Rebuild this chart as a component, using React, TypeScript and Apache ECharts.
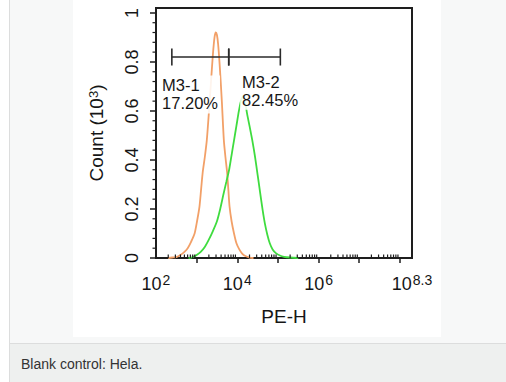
import React, { useEffect, useRef } from 'react';
import * as echarts from 'echarts';

const FONT = '"Liberation Sans", Arial, Helvetica, sans-serif';

// Axis ticks (x is the log10 exponent of PE-H intensity)
const xLabelValues = [2, 4, 6, 8.3];
const xLabelExponents = ['2', '4', '6', '8.3'];
const xMajorTicks = [3, 4, 5, 6, 7, 8];
const xMinorDecades = [2, 3, 4, 5, 6, 7];
const xMinorMultipliers = [2, 3, 4, 5, 6, 7, 8, 9];
const yTickValues = [0, 0.2, 0.4, 0.6, 0.8, 1];
const yTickLabels = ['0', '0.2', '0.4', '0.6', '0.8', '1'];
const yMinorTicks = [0.04, 0.08, 0.12, 0.16, 0.24, 0.28, 0.32, 0.36, 0.44, 0.48, 0.52, 0.56, 0.64, 0.68, 0.72, 0.76, 0.84, 0.88, 0.92, 0.96];

// Histograms: [log10(PE-H), count (10^3)]
const controlCurve: [number, number][] = [
  [2.3, 0], [2.4, 0.002], [2.5, 0.004], [2.6, 0.012], [2.7, 0.025], [2.78, 0.04], [2.86, 0.065],
  [2.95, 0.1], [3.01, 0.15], [3.07, 0.21], [3.11, 0.28], [3.15, 0.35], [3.2, 0.41], [3.25, 0.48],
  [3.3, 0.59], [3.35, 0.71], [3.4, 0.83], [3.44, 0.9], [3.47, 0.92], [3.5, 0.91], [3.53, 0.87],
  [3.57, 0.78], [3.62, 0.64], [3.67, 0.48], [3.71, 0.41], [3.75, 0.35], [3.78, 0.28], [3.81, 0.21],
  [3.86, 0.15], [3.92, 0.1], [3.98, 0.06], [4.05, 0.035], [4.12, 0.018], [4.2, 0.008], [4.3, 0.002], [4.4, 0],
];
const stainedCurve: [number, number][] = [
  [2.8, 0], [2.9, 0.003], [3.0, 0.012], [3.1, 0.025], [3.2, 0.045], [3.3, 0.075], [3.4, 0.11],
  [3.5, 0.15], [3.58, 0.2], [3.66, 0.26], [3.73, 0.31], [3.8, 0.36], [3.86, 0.42], [3.92, 0.48],
  [3.98, 0.54], [4.04, 0.6], [4.09, 0.64], [4.14, 0.66], [4.19, 0.64], [4.24, 0.59], [4.3, 0.54],
  [4.37, 0.48], [4.44, 0.41], [4.5, 0.34], [4.56, 0.27], [4.62, 0.2], [4.68, 0.14], [4.74, 0.095],
  [4.8, 0.06], [4.87, 0.035], [4.95, 0.02], [5.05, 0.01], [5.15, 0.005], [5.3, 0.002], [5.5, 0],
];

// Marker gates
const gateNames = ['M3-1', 'M3-2'];
const gatePercents = ['17.20%', '82.45%'];
const gateStarts = [2.39, 3.79];
const gateEnds = [3.79, 5.06];
const gateLevel = 0.82;
const gateLabelAnchors: [number, number][] = [[2.1, 0.745], [4.07, 0.76]];

const caption = 'Blank control: Hela.';

export default function App() {
  const ref = useRef<HTMLDivElement>(null);

  useEffect(() => {
    if (!ref.current) return;
    const chart = echarts.init(ref.current, null, { renderer: 'svg' });

    const xMinor: number[][] = [];
    xMinorDecades.forEach((d) => xMinorMultipliers.forEach((k) => xMinor.push([d + Math.log10(k), 0])));
    const yMinor = yMinorTicks.map((v) => [2, v]);
    const gateData = gateStarts.map((s, i) => [s, gateEnds[i], gateLevel]);
    const labelData = gateLabelAnchors.map((a, i) => [a[0], a[1], i]);

    const axisColor = '#1e1e1e';
    const textColor = '#161616';

    const option: any = {
      animation: false,
      textStyle: { fontFamily: FONT },
      grid: { left: 156, right: 94, top: 8, bottom: 124, show: true, borderColor: axisColor, borderWidth: 2 },
      graphic: [
        {
          type: 'text', left: 21, top: 357,
          style: { text: caption, fill: '#333', fontSize: 14, fontFamily: FONT },
        },
      ],
      xAxis: {
        type: 'value', min: 2, max: 8.3,
        name: 'PE-H', nameLocation: 'middle', nameGap: 49,
        nameTextStyle: { fontSize: 19, color: textColor, fontFamily: FONT },
        axisLine: { show: true, onZero: false, lineStyle: { color: axisColor, width: 2 } },
        axisTick: { show: true, inside: false, length: 5, customValues: xMajorTicks, lineStyle: { color: axisColor, width: 1.5 } },
        axisLabel: {
          customValues: xLabelValues, margin: 15, color: textColor,
          formatter: (v: number) => {
            const i = xLabelValues.findIndex((x) => Math.abs(x - v) < 1e-6);
            return i < 0 ? '' : `{b|10}{s|${xLabelExponents[i]}}`;
          },
          rich: {
            b: { fontSize: 18, lineHeight: 22, fontFamily: FONT, color: textColor },
            s: { fontSize: 14, lineHeight: 7, verticalAlign: 'top', padding: [0, 0, 0, 1], fontFamily: FONT, color: textColor },
          },
        },
        splitLine: { show: false },
      },
      yAxis: {
        type: 'value', min: 0, max: 1.02,
        name: 'Count (10{s|3})', nameLocation: 'middle', nameGap: 50, nameRotate: 90,
        nameTextStyle: {
          fontSize: 19, color: textColor, fontFamily: FONT,
          rich: { s: { fontSize: 13, verticalAlign: 'top', lineHeight: 10, fontFamily: FONT, color: textColor } },
        },
        axisLine: { show: true, onZero: false, lineStyle: { color: axisColor, width: 2 } },
        axisTick: { show: true, inside: false, length: 6, customValues: yTickValues, lineStyle: { color: axisColor, width: 1.5 } },
        axisLabel: {
          customValues: yTickValues, rotate: 90, margin: 15, fontSize: 18, color: textColor, fontFamily: FONT,
          formatter: (v: number) => {
            const i = yTickValues.findIndex((x) => Math.abs(x - v) < 1e-6);
            return i < 0 ? '' : yTickLabels[i];
          },
        },
        splitLine: { show: false },
      },
      series: [
        {
          type: 'line', name: 'Blank control', data: controlCurve, showSymbol: false, symbol: 'none',
          smooth: 0.25, lineStyle: { color: '#f2a068', width: 1.8 }, z: 2,
        },
        {
          type: 'line', name: 'Hela', data: stainedCurve, showSymbol: false, symbol: 'none',
          smooth: 0.25, lineStyle: { color: '#3fdc3f', width: 1.8 }, z: 2,
        },
        {
          type: 'custom', name: 'xMinor', data: xMinor, clip: false, silent: true, z: 3,
          encode: { x: 0, y: 1 },
          renderItem: (params: any, api: any) => {
            const p = api.coord([api.value(0), api.value(1)]);
            return { type: 'line', shape: { x1: p[0], y1: p[1], x2: p[0], y2: p[1] - 3.5 }, style: { stroke: axisColor, lineWidth: 1.2 } };
          },
        },
        {
          type: 'custom', name: 'yMinor', data: yMinor, clip: false, silent: true, z: 3,
          encode: { x: 0, y: 1 },
          renderItem: (params: any, api: any) => {
            const p = api.coord([api.value(0), api.value(1)]);
            return { type: 'line', shape: { x1: p[0], y1: p[1], x2: p[0] - 3.5, y2: p[1] }, style: { stroke: axisColor, lineWidth: 1.2 } };
          },
        },
        {
          type: 'custom', name: 'labels', data: labelData, clip: false, silent: true, z: 4,
          encode: { x: 0, y: 1 },
          renderItem: (params: any, api: any) => {
            const p = api.coord([api.value(0), api.value(1)]);
            const i = api.value(2);
            return {
              type: 'text', x: p[0], y: p[1],
              style: {
                text: gateNames[i] + '\n' + gatePercents[i], fill: textColor, fontSize: 16.5, fontFamily: FONT,
                lineHeight: 18, align: 'left', verticalAlign: 'top',
                backgroundColor: 'rgba(255,255,255,0.88)', padding: [1, 2],
              },
            };
          },
        },
        {
          type: 'custom', name: 'gates', data: gateData, clip: false, silent: true, z: 5,
          encode: { x: [0, 1], y: 2 },
          renderItem: (params: any, api: any) => {
            const s = api.coord([api.value(0), api.value(2)]);
            const e = api.coord([api.value(1), api.value(2)]);
            const st = { stroke: '#2a2a2a', lineWidth: 1.6 };
            return {
              type: 'group',
              children: [
                { type: 'line', shape: { x1: s[0], y1: s[1], x2: e[0], y2: e[1] }, style: st },
                { type: 'line', shape: { x1: s[0], y1: s[1] - 8.5, x2: s[0], y2: s[1] + 8.5 }, style: st },
                { type: 'line', shape: { x1: e[0], y1: e[1] - 8.5, x2: e[0], y2: e[1] + 8.5 }, style: st },
              ],
            };
          },
        },
      ],
    };

    chart.setOption(option);
    return () => chart.dispose();
  }, []);

  return (
    <div style={{ position: 'absolute', left: 0, top: 0, width: 506, height: 382, background: '#fff', overflow: 'hidden' }}>
      <div style={{ position: 'absolute', left: 9, top: 0, width: 497, height: 344, background: '#f7f8f8', borderLeft: '1px solid #dcdddd', borderBottom: '1px solid #dcdddd', boxSizing: 'border-box' }} />
      <div style={{ position: 'absolute', left: 9, top: 344, width: 497, height: 38, background: '#eef0ef', borderLeft: '1px solid #dcdddd', boxSizing: 'border-box' }} />
      <div style={{ position: 'absolute', left: 73, top: 0, width: 368, height: 337, background: '#fff' }} />
      <div ref={ref} style={{ position: 'absolute', left: 0, top: 0, width: 506, height: 382 }} />
    </div>
  );
}
